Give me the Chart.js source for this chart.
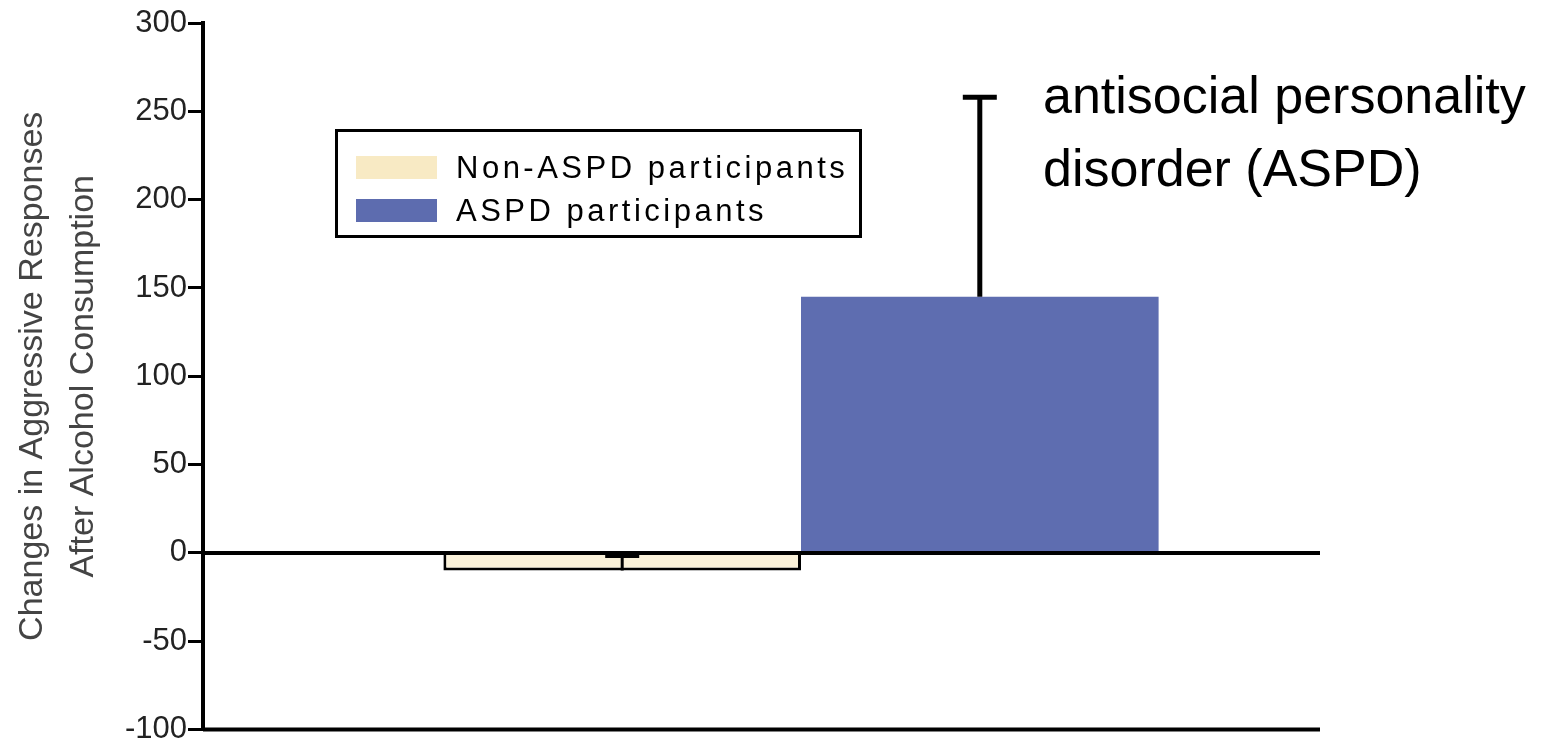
<!DOCTYPE html>
<html>
<head>
<meta charset="utf-8">
<script src="https://cdn.jsdelivr.net/npm/chart.js@4.4.0/dist/chart.umd.min.js"></script>
<style>
  html, body { margin: 0; padding: 0; background: #fff; }
  #wrap { width: 1544px; height: 743px; }
</style>
</head>
<body>
<div id="wrap"><canvas id="chart"></canvas></div>
<script>
// values
const groups = ['Non-ASPD participants', 'ASPD participants'];
const means = [-10, 145];
const errors = [8, 113];
const barColors = ['#faf1d9', '#5e6db0'];
const swatchColors = ['#f8eac4', '#5d6caf'];
const yTicks = [-100, -50, 0, 50, 100, 150, 200, 250, 300];
const yTitle = ['Changes in Aggressive Responses', 'After Alcohol Consumption'];
const note = ['antisocial personality', 'disorder (ASPD)'];

const FONT = "'Liberation Sans', Arial, sans-serif";
const AXIS_END = 1320;

const extras = {
  id: 'extras',
  afterDatasetsDraw(chart) {
    const { ctx, chartArea, scales: { y } } = chart;
    ctx.save();
    ctx.strokeStyle = '#000';
    ctx.lineCap = 'butt';

    // zero line and bottom line
    ctx.lineWidth = 4;
    [0, yTicks[0]].forEach(v => {
      const py = y.getPixelForValue(v);
      ctx.beginPath();
      ctx.moveTo(chartArea.left, py);
      ctx.lineTo(AXIS_END, py);
      ctx.stroke();
    });

    // error bars
    chart.data.datasets.forEach((ds, i) => {
      const bar = chart.getDatasetMeta(i).data[0];
      const y0 = y.getPixelForValue(means[i]);
      const y1 = y.getPixelForValue(means[i] + errors[i]);
      ctx.lineWidth = i === 0 ? 3 : 5;
      ctx.beginPath();
      ctx.moveTo(bar.x, y0);
      ctx.lineTo(bar.x, y1);
      ctx.moveTo(bar.x - 17, y1);
      ctx.lineTo(bar.x + 17, y1);
      ctx.stroke();
    });
    ctx.restore();
  },
  afterDraw(chart) {
    const { ctx } = chart;
    ctx.save();

    // legend box
    ctx.lineWidth = 3;
    ctx.strokeStyle = '#000';
    ctx.strokeRect(336.5, 130.5, 524, 106);
    ctx.font = '31px ' + FONT;
    ctx.textBaseline = 'middle';
    ctx.textAlign = 'left';
    ctx.fillStyle = '#000';
    if ('letterSpacing' in ctx) ctx.letterSpacing = '3.5px';
    chart.data.datasets.forEach((ds, i) => {
      const cy = 168 + i * 43;
      ctx.fillStyle = swatchColors[i];
      ctx.fillRect(356, cy - 12, 81, 23);
      ctx.fillStyle = '#000';
      ctx.fillText(ds.label, 456, cy + 1);
    });
    if ('letterSpacing' in ctx) ctx.letterSpacing = '0px';

    // annotation
    ctx.font = '52px ' + FONT;
    ctx.textBaseline = 'alphabetic';
    ctx.fillStyle = '#000';
    note.forEach((line, i) => ctx.fillText(line, 1043, 113 + i * 73));
    ctx.restore();
  }
};

const datasets = groups.map((g, i) => ({
  label: g,
  data: [means[i]],
  backgroundColor: barColors[i],
  borderColor: '#000',
  borderWidth: i === 0 ? 3 : 0,
  categoryPercentage: 0.598,
  barPercentage: 1
}));

new Chart(document.getElementById('chart'), {
  type: 'bar',
  data: { labels: [''], datasets: datasets },
  options: {
    responsive: true,
    maintainAspectRatio: false,
    devicePixelRatio: 1,
    animation: false,
    layout: { padding: { left: 0, top: 23, right: 145, bottom: 13 } },
    plugins: {
      legend: { display: false },
      tooltip: { enabled: false }
    },
    scales: {
      x: { display: false },
      y: {
        min: yTicks[0],
        max: yTicks[yTicks.length - 1],
        afterBuildTicks(scale) {
          scale.ticks = yTicks.map(v => ({ value: v }));
        },
        afterFit(scale) { scale.width = 203; },
        ticks: {
          color: '#222',
          padding: 1,
          font: { family: FONT, size: 31, lineHeight: 0.8 }
        },
        grid: {
          display: true,
          drawOnChartArea: false,
          drawTicks: true,
          tickLength: 15,
          lineWidth: 3,
          color: '#000'
        },
        border: { display: true, width: 4, color: '#000' },
        title: {
          display: true,
          text: yTitle,
          color: '#444',
          font: { family: FONT, size: 34, lineHeight: 1.5 },
          padding: { top: 7, bottom: 0 }
        }
      }
    }
  },
  plugins: [extras]
});
</script>
</body>
</html>
